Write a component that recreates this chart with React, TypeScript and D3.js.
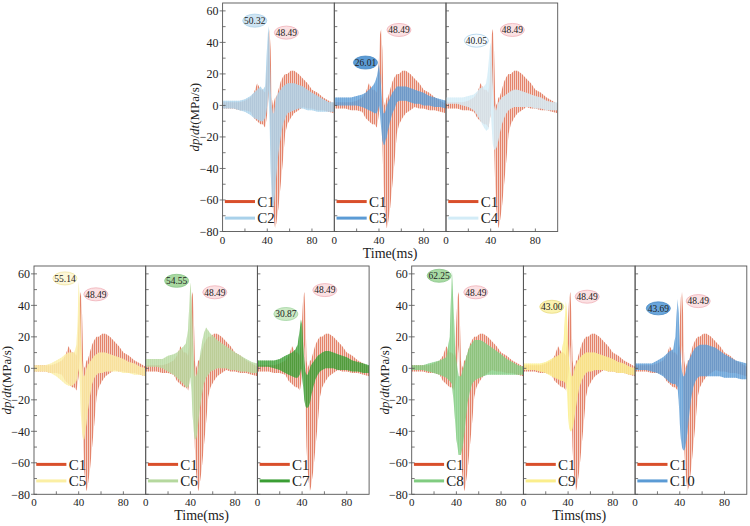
import React from "react";
import * as d3 from "d3";

// time grid (ms) shared by every envelope below
const T = [0, 5, 10, 15, 20, 25, 28, 31, 34, 36, 38, 39, 40, 41, 42, 43, 44, 45, 46, 47, 48, 50, 52, 54, 56, 58, 61, 64, 68, 72, 76, 80, 85, 90, 95, 100];

// lower / upper envelope of each dp/dt trace (MPa/s)
const c1Lo = [-2, -2, -2, -3, -3, -4, -8, -10, -12, -12, -14, -10, -5, 5, 15, -20, -50, -65, -72, -78, -75, -65, -50, -35, -18, -12, -8, -5, -3, -1, -2, -2, -3, -3, -4, -5];
const c1Hi = [2, 2, 2, 2, 3, 5, 8, 14, 10, 10, 8, 15, 30, 45, 48.5, 35, 5, 0, 2, 5, 5, 10, 15, 18, 20, 20, 22, 22, 20, 17, 14, 10, 8, 5, 3, 1];

const c2Lo = [-2, -2, -2, -3, -4, -6, -8, -9, -10, -10, -8, -5, 0, 10, -10, -40, -60, -65, -62, -55, -45, -30, -20, -12, -8, -5, -4, -3, -2, -2, -3, -3, -4, -4, -4, -4];
const c2Hi = [3, 3, 3, 3, 4, 6, 8, 10, 12, 10, 12, 25, 40, 50.3, 40, 10, 0, -5, -5, 0, 5, 8, 10, 12, 13, 14, 14, 14, 13, 12, 10, 8, 6, 4, 2, 2];

const c3Lo = [0, 0, 0, 0, 0, -1, -2, -3, -4, -5, -5, -3, 0, -5, -15, -22, -25, -25, -22, -20, -16, -10, -5, -2, 2, 3, 3, 3, 2, 1, 1, 0, 0, -1, -1, -2];
const c3Hi = [5, 5, 5, 5, 6, 7, 8, 10, 12, 14, 18, 22, 26, 20, 10, 0, -5, -5, -3, 0, 2, 5, 8, 10, 12, 12, 12, 12, 11, 10, 9, 8, 6, 5, 4, 3];

const c4Lo = [1, 1, 1, 0, -1, -3, -6, -10, -14, -16, -15, -10, -5, -15, -25, -28, -28, -27, -25, -22, -18, -12, -8, -5, -3, -2, -1, -1, -1, -1, -1, -2, -2, -3, -3, -3];
const c4Hi = [5, 5, 5, 5, 6, 7, 9, 11, 12, 14, 25, 35, 40, 30, 10, 0, -3, -3, 0, 2, 3, 5, 6, 7, 8, 9, 10, 10, 9, 8, 7, 6, 5, 3, 2, 2];

const c5Lo = [-2, -2, -2, -3, -5, -8, -10, -11, -11, -10, -8, -5, 0, -10, -30, -40, -45, -45, -40, -35, -28, -18, -10, -6, -4, -3, -3, -2, -2, -2, -2, -3, -3, -4, -4, -5];
const c5Hi = [2, 2, 2, 3, 5, 7, 9, 10, 10, 10, 15, 30, 55, 45, 20, 5, -5, -5, -3, 0, 2, 4, 6, 8, 9, 10, 10, 10, 9, 8, 7, 6, 4, 3, 1, 0];

const c6Lo = [1, 1, 1, 0, -2, -4, -6, -8, -10, -12, -12, -10, -5, -15, -30, -40, -45, -45, -42, -35, -28, -18, -10, -6, -4, -2, -1, 0, 0, 0, -1, -1, -2, -2, -3, -3];
const c6Hi = [6, 6, 6, 6, 8, 9, 10, 12, 14, 16, 25, 40, 54.5, 45, 25, 5, -5, -5, -3, 0, 5, 15, 22, 26, 24, 22, 20, 18, 16, 14, 12, 10, 8, 6, 4, 3];

const c7Lo = [1, 1, 1, 0, -1, -3, -4, -5, -6, -6, -4, 0, -5, -12, -20, -24, -25, -25, -24, -22, -18, -12, -7, -4, -2, -1, 0, 0, 0, -1, -1, -1, -2, -2, -3, -3];
const c7Hi = [5, 5, 5, 5, 6, 8, 9, 10, 12, 15, 25, 31, 28, 15, 5, -2, -4, -4, -2, 0, 2, 4, 6, 8, 9, 10, 11, 11, 10, 9, 8, 7, 5, 4, 3, 2];

const c8Lo = [-1, -1, -1, -2, -3, -4, -5, -6, -8, -10, -25, -35, -45, -50, -55, -55, -55, -52, -48, -42, -35, -22, -15, -10, -8, -7, -6, -5, -4, -4, -4, -4, -4, -4, -4, -4];
const c8Hi = [2, 2, 2, 3, 4, 5, 6, 7, 20, 62.3, 30, 10, 5, 0, -5, -5, -5, -3, 0, 2, 5, 10, 14, 16, 18, 18, 18, 17, 15, 13, 11, 9, 6, 4, 2, 1];

const c9Lo = [-1, -1, -1, -2, -3, -5, -6, -7, -8, -8, -10, -15, -30, -38, -40, -40, -38, -35, -30, -25, -20, -12, -8, -5, -3, -2, -2, -1, -1, -1, -2, -2, -3, -3, -4, -4];
const c9Hi = [3, 3, 3, 3, 4, 6, 7, 8, 10, 18, 43, 35, 15, 5, -2, -5, -5, -3, 0, 2, 4, 6, 8, 9, 10, 10, 10, 10, 9, 8, 7, 6, 4, 3, 1, 0];

const c10Lo = [-1, -1, -1, -2, -3, -5, -7, -9, -10, -10, -12, -20, -35, -45, -50, -52, -52, -50, -45, -40, -32, -20, -12, -8, -6, -5, -5, -5, -5, -5, -5, -6, -6, -6, -7, -7];
const c10Hi = [3, 3, 3, 3, 5, 7, 9, 11, 12, 20, 44, 35, 15, 5, -2, -5, -5, -3, 0, 3, 5, 8, 11, 13, 14, 15, 15, 15, 14, 13, 11, 9, 7, 5, 4, 3];

const yTicks = [-80, -60, -40, -20, 0, 20, 40, 60];
const xTickLabels = [0, 40, 80];

// peak callouts: [value text, time, value]
const peakLabels = [
  ["50.32", 28.8, 53.8], ["26.01", 27.9, 27.2], ["40.05", 27.2, 41.1],
  ["55.14", 27.7, 57.1], ["54.55", 27.7, 55.6], ["30.87", 25.5, 34.5],
  ["62.25", 24.6, 58.8], ["43.00", 25.4, 39.1], ["43.69", 20.8, 38.1],
];
const c1Labels = [
  [57.1, 46.2], [57.9, 47.9], [59.4, 47.9],
  [55.4, 47], [61.9, 48.3], [60.4, 49.7],
  [57.4, 48.3], [57.1, 45.5], [56.5, 42.7],
];

type Series = { name: string; color: string; lo: number[]; hi: number[] };

const C1: Series = { name: "C1", color: "#d94f2b", lo: c1Lo, hi: c1Hi };
const others: Series[] = [
  { name: "C2", color: "#a9d1ea", lo: c2Lo, hi: c2Hi },
  { name: "C3", color: "#5b9bd5", lo: c3Lo, hi: c3Hi },
  { name: "C4", color: "#d3ecf7", lo: c4Lo, hi: c4Hi },
  { name: "C5", color: "#fbefa4", lo: c5Lo, hi: c5Hi },
  { name: "C6", color: "#b5d89e", lo: c6Lo, hi: c6Hi },
  { name: "C7", color: "#3a9e34", lo: c7Lo, hi: c7Hi },
  { name: "C8", color: "#80cc80", lo: c8Lo, hi: c8Hi },
  { name: "C9", color: "#fbee8c", lo: c9Lo, hi: c9Hi },
  { name: "C10", color: "#5b9bd5", lo: c10Lo, hi: c10Hi },
];

const bubbleStyle = [
  { fill: "#cfe5f3", stroke: "#a9d1ea" },
  { fill: "#5b9bd5", stroke: "#4a8ac4" },
  { fill: "#f7fbfe", stroke: "#a9d1ea" },
  { fill: "#fdf7d7", stroke: "#efe3a0" },
  { fill: "#a8d8a0", stroke: "#86c486" },
  { fill: "#cbe9c4", stroke: "#a3d6a3" },
  { fill: "#a9dba4", stroke: "#86c486" },
  { fill: "#fbf3b0", stroke: "#e8da80" },
  { fill: "#6aa6dc", stroke: "#4a8ac4" },
];

const PW = 111.7;
const groups = [
  { left: 222.6, top: 3, bottom: 231.5, xLabel: "Time(ms)", yLabelX: 199, start: 0 },
  { left: 34, top: 266, bottom: 494.3, xLabel: "Time(ms)", yLabelX: 11, start: 3 },
  { left: 411.7, top: 266, bottom: 494.3, xLabel: "Tims(ms)", yLabelX: 389, start: 6 },
];

const FONT = "Liberation Serif";

function envelope(s: Series, x: any, y: any) {
  return (
    d3
      .area<number>()
      .x((_, i) => x(T[i]))
      .y0((_, i) => y(s.lo[i]))
      .y1((_, i) => y(s.hi[i]))(T) || ""
  );
}

export default function App() {
  const all = [C1, ...others];
  return (
    <svg width={750} height={526} fontFamily={FONT} style={{ position: "absolute", left: 0, top: 0 }}>
      <defs>
        {all.map((s) => (
          <pattern key={s.name} id={`hatch-${s.name}`} width={2} height={6} patternUnits="userSpaceOnUse">
            <rect width={1} height={6} fill={s.color} />
          </pattern>
        ))}
      </defs>
      <rect width={750} height={526} fill="#fff" />
      {groups.map((g, gi) => {
        const y = d3.scaleLinear().domain([-80, 65]).range([g.bottom, g.top]);
        const midY = (g.top + g.bottom) / 2;
        return (
          <g key={gi}>
            {[0, 1, 2].map((pi) => {
              const idx = g.start + pi;
              const s = others[idx];
              const x0 = g.left + pi * PW;
              const x = d3.scaleLinear().domain([0, 100]).range([x0, x0 + PW]);
              const clip = `clip-${idx}`;
              const pt = peakLabels[idx][1] as number;
              const pv = peakLabels[idx][2] as number;
              const [ct, cv] = c1Labels[idx];
              const c1d = envelope(C1, x, y);
              const sd = envelope(s, x, y);
              return (
                <g key={pi}>
                  <clipPath id={clip}>
                    <rect x={x0} y={g.top} width={PW} height={g.bottom - g.top} />
                  </clipPath>
                  <g clipPath={`url(#${clip})`}>
                    <path d={c1d} fill={C1.color} fillOpacity={0.25} />
                    <path d={c1d} fill={`url(#hatch-C1)`} opacity={0.6} />
                    <path d={sd} fill={s.color} fillOpacity={0.72} />
                    <path d={sd} fill={`url(#hatch-${s.name})`} opacity={0.5} />
                  </g>
                  {/* frame */}
                  <rect x={x0} y={g.top} width={PW} height={g.bottom - g.top} fill="none" stroke="#555" strokeWidth={0.9} />
                  {/* y minor ticks */}
                  {d3.range(-80, 61, 10).map((v) => (
                    <line key={v} x1={x0} x2={x0 + 3} y1={y(v)} y2={y(v)} stroke="#555" strokeWidth={0.8} />
                  ))}
                  {/* x ticks */}
                  {[20, 40, 60, 80].map((t) => (
                    <line key={t} x1={x(t)} x2={x(t)} y1={g.bottom} y2={g.bottom - 3} stroke="#555" strokeWidth={0.8} />
                  ))}
                  {xTickLabels.map((t) => (
                    <text key={t} x={x(t)} y={g.bottom + 12} fontSize={11} textAnchor="middle" fill="#222">
                      {t}
                    </text>
                  ))}
                  {/* legend */}
                  {[C1, s].map((ls, li) => {
                    const v = li === 0 ? -61 : -71.5;
                    return (
                      <g key={ls.name}>
                        <line x1={x(2)} x2={x(29)} y1={y(v)} y2={y(v)} stroke={ls.color} strokeWidth={3} />
                        <text x={x(31)} y={y(v)} dy="0.35em" fontSize={15} fill="#222">
                          {ls.name}
                        </text>
                      </g>
                    );
                  })}
                  {/* callouts */}
                  <ellipse cx={x(pt)} cy={y(pv)} rx={12} ry={6.5} fill={bubbleStyle[idx].fill} stroke={bubbleStyle[idx].stroke} strokeWidth={0.8} />
                  <text x={x(pt)} y={y(pv)} dy="0.35em" fontSize={9.5} textAnchor="middle" fill="#222">
                    {peakLabels[idx][0]}
                  </text>
                  <ellipse cx={x(ct)} cy={y(cv)} rx={12} ry={6.5} fill="#fbe1e3" stroke="#f0b0b8" strokeWidth={0.8} />
                  <text x={x(ct)} y={y(cv)} dy="0.35em" fontSize={9.5} textAnchor="middle" fill="#222">
                    48.49
                  </text>
                </g>
              );
            })}
            {/* y axis labels on first panel */}
            {yTicks.map((v) => (
              <g key={v}>
                <line x1={g.left - 3} x2={g.left} y1={y(v)} y2={y(v)} stroke="#555" strokeWidth={0.8} />
                <text x={g.left - 4} y={y(v)} dy="0.35em" fontSize={12} textAnchor="end" fill="#222">
                  {v < 0 ? `\u2212${-v}` : v}
                </text>
              </g>
            ))}
            <text transform={`translate(${g.yLabelX},${midY}) rotate(-90)`} textAnchor="middle" fontSize={13} fill="#222">
              <tspan fontStyle="italic">dp</tspan>/<tspan fontStyle="italic">dt</tspan>(MPa/s)
            </text>
            <text x={g.left + 1.5 * PW} y={g.bottom + 26} textAnchor="middle" fontSize={14} fill="#222">
              {g.xLabel}
            </text>
          </g>
        );
      })}
    </svg>
  );
}
